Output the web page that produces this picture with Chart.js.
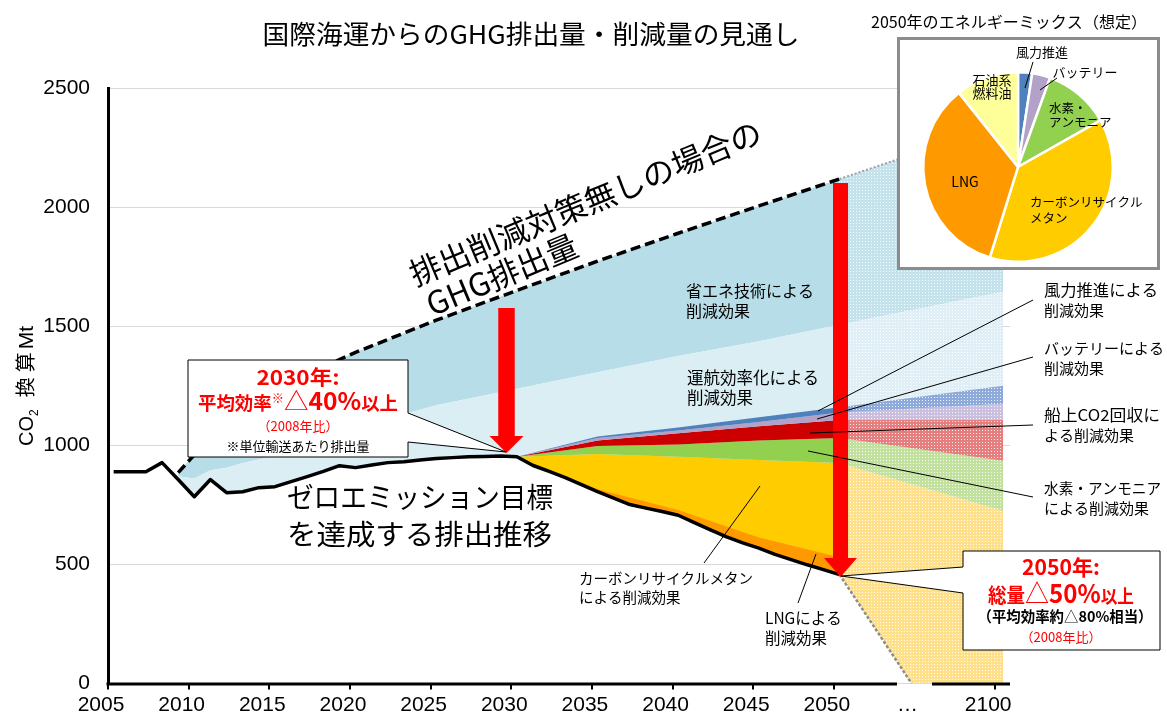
<!DOCTYPE html>
<html><head><meta charset="utf-8">
<script src="https://cdn.jsdelivr.net/npm/chart.js@4.4.1/dist/chart.umd.min.js"></script>
<style>
html,body{margin:0;padding:0;background:#fff;}
#wrap{position:relative;width:1167px;height:714px;overflow:hidden;background:#fff;}
#main{position:absolute;left:0;top:0;}
#pieBox{position:absolute;left:897px;top:37px;width:257px;height:227px;border:3px solid #8C8C8C;background:#fff;}
#pie{position:absolute;left:0;top:0;}
</style></head><body>
<div id="wrap"><canvas id="main" width="1167" height="714"></canvas>
<div id="pieBox"><canvas id="pie" width="257" height="227"></canvas></div></div>
<script>
// ---------------- DATA ----------------
const xTickLabels = ['2005','2010','2015','2020','2025','2030','2035','2040','2045','2050','…','2100'];

// zero-emission target pathway (historical + target), Mt CO2
const targetYears = [2005,2006,2007,2008,2009,2010,2011,2012,2013,2014,2015,2016,2017,2018,2019,2020,
  2021,2022,2023,2024,2025,2026,2027,2028,2029,2030,2031,2032,2033,2034,2035,2036,2037,2038,2039,2040,
  2041,2042,2043,2044,2045,2046,2047,2048,2049,2050,2072,2100];
const targetValues = [889,889,889,927,856,784,856,801,805,822,826,847,868,890,914,906,
  917,927,931,938,944,948,952,953,955,952,915,890,864,835,805,778,751,736,722,706,
  675,645,615,590,568,542,520,498,478,457,0,0];

// business-as-usual emissions (no measures)
const bauYears  = [2009,2010,2011,2012,2013,2014,2015,2016,2017,2018,2019,2020,2025,2030,2035,2040,2045,2050,2100];
const bauValues = [885,960,1025,1080,1130,1175,1215,1255,1290,1325,1360,1390,1525,1650,1773,1890,2005,2118,2350];

// upper edge of operational-efficiency reduction band
const opsYears = [2009,2010,2011,2012,2013,2014,2015,2020,2025,2030,2035,2040,2045,2050,2100];
const opsTop   = [870,860,895,905,925,940,955,1075,1168,1237,1306,1375,1437,1506,1644];

// upper edges of the alternative-fuel / technology bands
const mixYears   = [2030,2035,2040,2045,2050,2100];
const windTop    = [952,1037,1075,1118,1160,1250];
const batteryTop = [952,1030,1062,1098,1137,1174];
const ccsTop     = [952,1020,1050,1080,1106,1107];
const h2Top      = [952, 997,1003,1020,1030, 935];
const methaneTop = [952, 963, 952, 938, 925, 725];
const lngYears   = [2030,2035,2040,2045,2050];
const lngTop     = [952, 815, 728, 613, 530];

// 2050 energy mix (pie), percent
const pieNames  = ['風力推進','バッテリー','水素・アンモニア','カーボンリサイクルメタン','LNG','石油系燃料油'];
const pieShares = [2.4, 3.1, 11.3, 38.0, 34.5, 10.7];

// ---------------- helpers ----------------
const X0 = 2004.65;
function pos(year){ return year <= 2050 ? year : 2050 + (year - 2050) * 0.203; }
const pts = (ys, vs) => ys.map((y, i) => ({x: pos(y), y: vs[i]}));
const CJK = '"Noto Sans CJK JP", "Noto Sans", sans-serif';
const LAT = '"Liberation Sans", Arial, sans-serif';
const RED = '#FF0000';

function pattern(base){
  const c = document.createElement('canvas'); c.width = 3; c.height = 3;
  const g = c.getContext('2d');
  g.fillStyle = base; g.fillRect(0,0,3,3);
  g.fillStyle = 'rgba(255,255,255,0.85)'; g.fillRect(1,1,1,1);
  return g.createPattern(c, 'repeat');
}
const after = (v) => (c) => c.p0.parsed.x >= 2050 ? v : undefined;
const NONE = 'rgba(0,0,0,0)';

function F(size, bold, fam){ return (bold ? 'bold ' : '') + size + 'px ' + (fam || CJK); }
function T(ctx, s, x, cy, size, o){
  o = o || {};
  ctx.save();
  ctx.font = F(size, o.bold, o.fam);
  ctx.fillStyle = o.color || '#000';
  ctx.textBaseline = 'alphabetic';
  const w = ctx.measureText(s).width;
  const sx = o.w ? o.w / w : 1;
  const W = w * sx;
  let x0 = o.align === 'center' ? x - W/2 : (o.align === 'right' ? x - W : x);
  ctx.translate(x0, cy + 0.37 * size);
  ctx.scale(sx, 1);
  ctx.textAlign = 'left';
  ctx.fillText(s, 0, 0);
  ctx.restore();
}
function R(ctx, parts, x, base, align, fitW){
  ctx.save();
  const ws = parts.map(p => { ctx.font = F(p[1], p[2], p[6]); return ctx.measureText(p[0]).width + (p[5] || 0); });
  const tot = ws.reduce((a,b)=>a+b, 0);
  const sx = fitW ? fitW / tot : 1;
  const W = tot * sx;
  const x0 = align === 'center' ? x - W/2 : (align === 'right' ? x - W : x);
  ctx.translate(x0, base); ctx.scale(sx, 1);
  ctx.textBaseline = 'alphabetic'; ctx.textAlign = 'left';
  let cx = 0;
  parts.forEach((p, i) => { ctx.font = F(p[1], p[2], p[6]); ctx.fillStyle = p[3] || '#000'; ctx.fillText(p[0], cx, p[4] || 0); cx += ws[i]; });
  ctx.restore();
}
function line(ctx, x1, y1, x2, y2, w, col){
  ctx.save(); ctx.strokeStyle = col || '#000'; ctx.lineWidth = w || 1;
  ctx.beginPath(); ctx.moveTo(x1, y1); ctx.lineTo(x2, y2); ctx.stroke(); ctx.restore();
}
function arrow(ctx, cx, top, headTop, tip, sw, hw){
  ctx.save(); ctx.fillStyle = RED; ctx.beginPath();
  ctx.moveTo(cx - sw/2, top); ctx.lineTo(cx + sw/2, top); ctx.lineTo(cx + sw/2, headTop);
  ctx.lineTo(cx + hw/2, headTop); ctx.lineTo(cx, tip); ctx.lineTo(cx - hw/2, headTop);
  ctx.lineTo(cx - sw/2, headTop); ctx.closePath(); ctx.fill(); ctx.restore();
}
function poly(ctx, p){
  ctx.save(); ctx.beginPath(); ctx.moveTo(p[0][0], p[0][1]);
  for (let i = 1; i < p.length; i++) ctx.lineTo(p[i][0], p[i][1]);
  ctx.closePath(); ctx.fillStyle = '#fff'; ctx.fill();
  ctx.strokeStyle = '#000'; ctx.lineWidth = 1; ctx.stroke(); ctx.restore();
}

// ---------------- annotations ----------------
const annotate = {
  id: 'annotate',
  afterDraw(chart){
    const ctx = chart.ctx;
    line(ctx, 106.5, 684, 897, 684, 3);
    line(ctx, 932, 684, 1010, 684, 3);

    T(ctx, '国際海運からのGHG排出量・削減量の見通し', 531, 34, 26, {align:'center', w:537});
    T(ctx, '2050年のエネルギーミックス（想定）', 1009, 22, 15.5, {align:'center', w:276});

    ctx.save(); ctx.translate(26, 386); ctx.rotate(-Math.PI/2);
    R(ctx, [['CO',20,false,'#000',0,0,LAT],['2',12,false,'#000',5,12,LAT],['換',20,false,'#000',0,5],['算',20,false,'#000',0,3],['Mt',21,false,'#000',0,0,LAT]], 0, 7, 'center');
    ctx.restore();

    arrow(ctx, 506.5, 308, 436, 453, 16.5, 34);
    arrow(ctx, 840.5, 183, 558, 577, 15, 33);

    poly(ctx, [[188,360],[408,360],[408,413],[506,452],[408,442],[408,457],[188,457]]);
    T(ctx, '2030年:', 298, 378, 20, {align:'center', bold:true, color:RED, w:83});
    R(ctx, [['平均効率',18,true,RED],['※',12,true,RED,-7],['△',24,false,RED],['40%',24,true,RED],['以上',18,true,RED]], 298, 410, 'center', 200);
    T(ctx, '（2008年比）', 298, 426, 13, {align:'center', color:RED});
    T(ctx, '※単位輸送あたり排出量', 298, 446, 13, {align:'center'});

    poly(ctx, [[963,551],[1160,551],[1160,650],[963,650],[963,593],[841,576],[963,567]]);
    T(ctx, '2050年:', 1061, 567, 21, {align:'center', bold:true, color:RED, w:78});
    R(ctx, [['総量',20,true,RED],['△',26,false,RED],['50%',26,true,RED],['以上',18,true,RED]], 1061, 603, 'center', 146);
    R(ctx, [['（平均効率約',15,true,'#000'],['△',15,false,'#000'],['80%',15,true,'#000'],['相当）',15,true,'#000']], 1065, 622, 'center', 175);
    T(ctx, '（2008年比）', 1061, 637, 13, {align:'center', color:RED});

    ctx.save(); ctx.translate(411, 276); ctx.rotate(-22.6 * Math.PI / 180);
    ctx.font = F(31.5); ctx.fillStyle = '#000'; ctx.textBaseline = 'alphabetic';
    ctx.fillText('排出削減対策無しの場合の', 0, 11.5);
    ctx.fillText('GHG排出量', 4, 45.5);
    ctx.restore();

    T(ctx, '省エネ技術による', 686, 291, 16); T(ctx, '削減効果', 686, 311, 16);
    T(ctx, '運航効率化による', 687, 378, 16.5); T(ctx, '削減効果', 687, 398, 16.5);
    T(ctx, 'ゼロエミッション目標', 287, 498, 28, {w:266});
    T(ctx, 'を達成する排出推移', 287, 535, 28, {w:265});

    T(ctx, '風力推進による', 1044, 290, 15.5, {w:114}); T(ctx, '削減効果', 1044, 310, 15);
    T(ctx, 'バッテリーによる', 1044, 348, 15); T(ctx, '削減効果', 1044, 368, 15);
    T(ctx, '船上CO2回収に', 1044, 415, 15.5, {w:116}); T(ctx, 'よる削減効果', 1044, 435, 15);
    T(ctx, '水素・アンモニア', 1044, 488, 15, {w:117}); T(ctx, 'による削減効果', 1044, 508, 15);
    T(ctx, 'カーボンリサイクルメタン', 579, 579, 14.5); T(ctx, 'による削減効果', 579, 598, 14.5);
    T(ctx, 'LNGによる', 765, 618, 15.5); T(ctx, '削減効果', 765, 638, 15.5);

    line(ctx, 1033, 300, 818, 411);
    line(ctx, 1033, 357, 817, 419);
    line(ctx, 1033, 425, 810, 433);
    line(ctx, 1033, 497, 808, 451);
    line(ctx, 704, 563, 760, 486);
    line(ctx, 798, 603, 816, 554);
  }
};

// ---------------- main chart ----------------
const mctx = document.getElementById('main').getContext('2d');
const P = {
  bau: pattern('#C4E2EC'), ops: pattern('#E0EFF5'), wind: pattern('#8EAADB'),
  bat: pattern('#CBBFDF'), ccs: pattern('#E57E7E'), h2: pattern('#C2E09E'), met: pattern('#FFE08A')
};
const band = (data, color, pat, fill, order) => ({
  data, backgroundColor: color, borderColor: NONE, borderWidth: 0, fill, order,
  segment: { backgroundColor: after(pat) }
});

new Chart(mctx, {
  type: 'line',
  data: { datasets: [
    {
      data: pts(targetYears, targetValues), borderColor: '#000', borderWidth: 3.5, fill: false, order: 10,
      borderJoinStyle: 'round',
      segment: {
        borderColor: c => c.p0.parsed.x >= pos(2072) ? NONE : (c.p0.parsed.x >= 2050 ? '#8C8C8C' : undefined),
        borderDash: after([3, 2]), borderWidth: after(2.5)
      }
    },
    band(pts(lngYears, lngTop), '#FF9900', pattern('#FFC880'), {target: 0}, 70),
    band(pts(mixYears, methaneTop), '#FFCC00', P.met, {target: 0}, 80),
    band(pts(mixYears, h2Top), '#92D050', P.h2, {target: 2}, 60),
    band(pts(mixYears, ccsTop), '#CC0000', P.ccs, '-1', 50),
    band(pts(mixYears, batteryTop), '#B3A2C7', P.bat, '-1', 40),
    band(pts(mixYears, windTop), '#4F81BD', P.wind, '-1', 30),
    band(pts(opsYears, opsTop), '#DAEEF3', P.ops, {target: 0}, 90),
    {
      data: pts(bauYears, bauValues), backgroundColor: '#B7DDE8', borderColor: '#000', borderWidth: 3.5,
      borderDash: [10, 5], fill: '-1', order: 100,
      segment: { backgroundColor: after(P.bau), borderColor: after('#A0A0A0'), borderDash: after([2, 2]), borderWidth: after(2) }
    }
  ]},
  options: {
    responsive: false, animation: false, devicePixelRatio: 1, events: [],
    layout: { padding: { left: 0, top: 88, right: 157, bottom: 0 } },
    elements: { point: { radius: 0 }, line: { tension: 0 } },
    plugins: { legend: { display: false }, tooltip: { enabled: false } },
    scales: {
      x: {
        type: 'linear', min: X0, max: 2060.57,
        afterBuildTicks: s => { s.ticks = xTickLabels.map((l, k) => ({ value: X0 + 5 * k })); },
        afterFit: s => { s.height = 30; },
        ticks: { autoSkip: false, maxRotation: 0, padding: 3, labelOffset: -7, color: '#000',
                 font: { size: 21, family: LAT }, callback: (v, i) => xTickLabels[i] },
        grid: { drawOnChartArea: false, drawTicks: true, tickLength: 6, lineWidth: 2,
                color: c => c.index === 10 ? NONE : '#000' },
        border: { display: false }
      },
      y: {
        min: 0, max: 2500,
        afterFit: s => { s.width = 108; },
        ticks: { stepSize: 500, padding: 18, color: '#000', font: { size: 21, family: LAT },
                 callback: v => String(v) },
        grid: { color: '#D9D9D9', lineWidth: 1, drawTicks: false },
        border: { display: true, color: '#000', width: 3 }
      }
    }
  },
  plugins: [annotate]
});

// ---------------- pie chart ----------------
const pieText = {
  id: 'pieText',
  afterDraw(chart){
    const ctx = chart.ctx;
    T(ctx, '風力推進', 142, 12, 13, {align:'center'});
    line(ctx, 133, 22, 125, 48);
    T(ctx, 'バッテリー', 185, 32, 13, {align:'center'});
    line(ctx, 157, 38, 140, 50);
    T(ctx, '石油系', 92, 40, 13, {align:'center'});
    T(ctx, '燃料油', 92, 53, 13, {align:'center'});
    T(ctx, '水素・', 149, 68, 12.5);
    T(ctx, 'アンモニア', 149, 82, 12.5);
    T(ctx, 'LNG', 65, 142, 14, {align:'center'});
    T(ctx, 'カーボンリサイクル', 130, 162, 12.5);
    T(ctx, 'メタン', 130, 178, 12.5);
  }
};
new Chart(document.getElementById('pie').getContext('2d'), {
  type: 'pie',
  data: { labels: pieNames, datasets: [{
    data: pieShares,
    backgroundColor: ['#4F81BD','#B3A2C7','#92D050','#FFCC00','#FF9900','#FFFF99'],
    borderColor: '#FFFFFF', borderWidth: 2.5
  }]},
  options: {
    responsive: false, animation: false, devicePixelRatio: 1, events: [],
    layout: { padding: { left: 22, right: 43, top: 31, bottom: 4 } },
    plugins: { legend: { display: false }, tooltip: { enabled: false } }
  },
  plugins: [pieText]
});
</script>
</body></html>
